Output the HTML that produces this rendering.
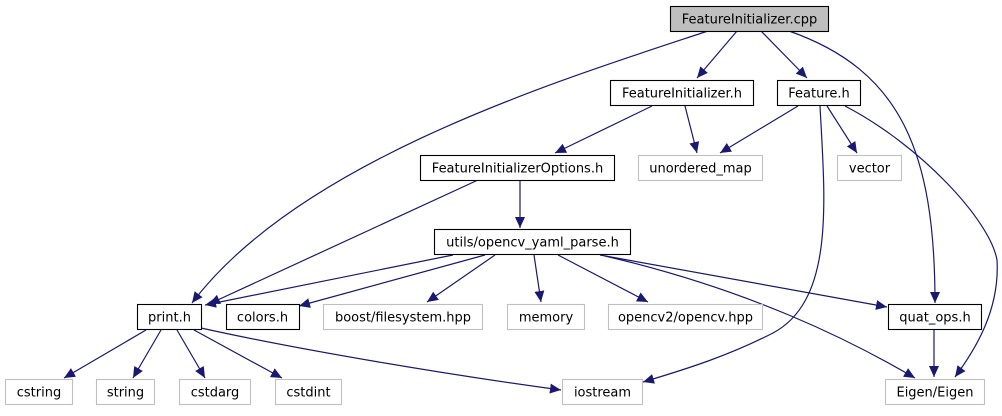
<!DOCTYPE html>
<html><head><meta charset="utf-8"><style>
html,body{margin:0;padding:0;background:#fff;}
svg text{font-family:"DejaVu Sans","Liberation Sans",sans-serif;font-size:13px;fill:#000;}
</style></head><body>
<svg width="1002" height="411" viewBox="0 0 1002 411" xmlns="http://www.w3.org/2000/svg">
<defs>
<marker id="a" markerUnits="userSpaceOnUse" markerWidth="12" markerHeight="10" refX="11" refY="5" orient="auto">
<path d="M0,0 L11,5 L0,10 Z" fill="#191970"/>
</marker>
</defs>
<g fill="none" stroke="#191970" stroke-width="1.2" marker-end="url(#a)">
<path d="M708,31 C560,80 300,160 192,303"/>
<path d="M737,31 L697,78"/>
<path d="M761,31 L807,78"/>
<path d="M789,31 C900,70 935,150 935,303"/>
<path d="M652,106 L555,153"/>
<path d="M685,106 L697,153"/>
<path d="M798,106 L720,153"/>
<path d="M827,106 L857,153"/>
<path d="M845,106 C920,145 990,220 997,260 C1000,310 975,350 955,377"/>
<path d="M820,106 C825,200 835,300 773,333 C730,355 690,368 643,382"/>
<path d="M478,180 L209,304"/>
<path d="M520,180 L520,228"/>
<path d="M453,255 L205,305"/>
<path d="M485,255 L299,306"/>
<path d="M495,255 L427,302"/>
<path d="M534,255 L541,302"/>
<path d="M558,255 L648,302"/>
<path d="M600,255 L887,307"/>
<path d="M605,256 C750,290 850,340 915,378"/>
<path d="M934,330 L934,377"/>
<path d="M146,330 L64,378"/>
<path d="M161,330 L133,378"/>
<path d="M177,330 L205,378"/>
<path d="M194,330 L282,378"/>
<path d="M201,328 C300,350 450,375 561,390"/>
</g>
<g stroke-width="1.1">
<rect x="670.5" y="6.5" width="158" height="25" fill="#bfbfbf" stroke="#000"/>
<rect x="610.5" y="80.5" width="143" height="25" fill="#fff" stroke="#000"/>
<rect x="777.5" y="80.5" width="83" height="25" fill="#fff" stroke="#000"/>
<rect x="420.5" y="155.5" width="194" height="25" fill="#fff" stroke="#000"/>
<rect x="638.5" y="155.5" width="124" height="25" fill="#fff" stroke="#bfbfbf"/>
<rect x="837.5" y="155.5" width="64" height="25" fill="#fff" stroke="#bfbfbf"/>
<rect x="434.5" y="229.5" width="196" height="25" fill="#fff" stroke="#000"/>
<rect x="137.5" y="304.5" width="64" height="25" fill="#fff" stroke="#000"/>
<rect x="226.5" y="304.5" width="73" height="25" fill="#fff" stroke="#000"/>
<rect x="323.5" y="304.5" width="159" height="25" fill="#fff" stroke="#bfbfbf"/>
<rect x="507.5" y="304.5" width="77" height="25" fill="#fff" stroke="#bfbfbf"/>
<rect x="608.5" y="304.5" width="154" height="25" fill="#fff" stroke="#bfbfbf"/>
<rect x="888.5" y="304.5" width="93" height="25" fill="#fff" stroke="#000"/>
<rect x="5.5" y="379.5" width="67" height="25" fill="#fff" stroke="#bfbfbf"/>
<rect x="96.5" y="379.5" width="58" height="25" fill="#fff" stroke="#bfbfbf"/>
<rect x="179.5" y="379.5" width="71" height="25" fill="#fff" stroke="#bfbfbf"/>
<rect x="275.5" y="379.5" width="66" height="25" fill="#fff" stroke="#bfbfbf"/>
<rect x="562.5" y="379.5" width="80" height="25" fill="#fff" stroke="#bfbfbf"/>
<rect x="885.5" y="379.5" width="99" height="25" fill="#fff" stroke="#bfbfbf"/>
</g>
<g text-anchor="middle">
<text x="749.5" y="23.5">FeatureInitializer.cpp</text>
<text x="682" y="97.5">FeatureInitializer.h</text>
<text x="819" y="97.5">Feature.h</text>
<text x="517.5" y="172.5">FeatureInitializerOptions.h</text>
<text x="700.5" y="172.5">unordered_map</text>
<text x="869.5" y="172.5">vector</text>
<text x="532.5" y="246.5">utils/opencv_yaml_parse.h</text>
<text x="169.5" y="321.5">print.h</text>
<text x="262.5" y="321.5">colors.h</text>
<text x="403" y="321.5">boost/filesystem.hpp</text>
<text x="546" y="321.5">memory</text>
<text x="685.5" y="321.5">opencv2/opencv.hpp</text>
<text x="935" y="321.5">quat_ops.h</text>
<text x="39" y="396.5">cstring</text>
<text x="125.5" y="396.5">string</text>
<text x="215" y="396.5">cstdarg</text>
<text x="308.5" y="396.5">cstdint</text>
<text x="602.5" y="396.5">iostream</text>
<text x="935" y="396.5">Eigen/Eigen</text>
</g>
</svg>
</body></html>
